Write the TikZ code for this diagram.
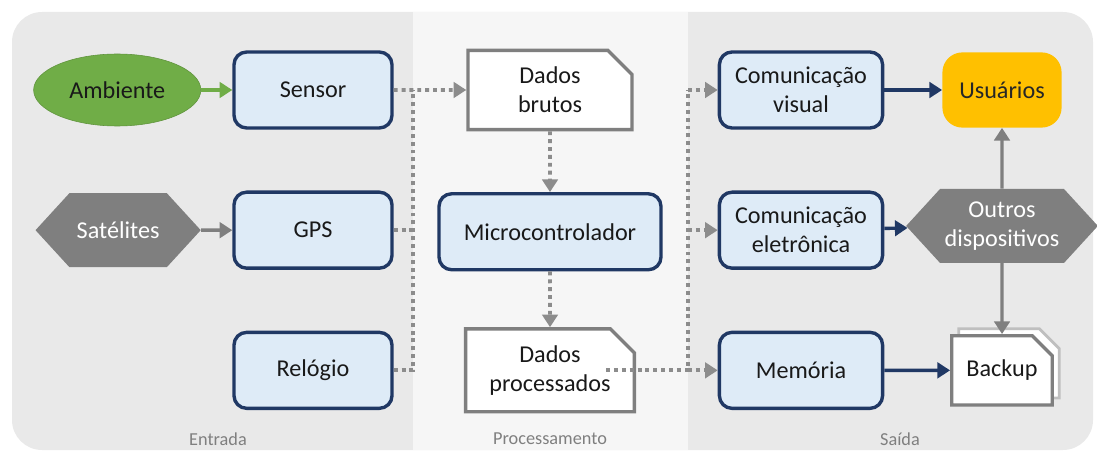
\documentclass[tikz,border=0pt]{standalone}
\usepackage{fontspec}
\setmainfont{Carlito}
\usetikzlibrary{positioning,arrows.meta,shapes.geometric,shapes.misc,shapes.symbols,shadows}
\definecolor{unitNavy}{HTML}{203864}
\definecolor{unitBlue}{HTML}{DEEBF7}
\definecolor{envGreen}{HTML}{70AD47}
\definecolor{extGray}{HTML}{7F7F7F}
\definecolor{userGold}{HTML}{FFC000}
\definecolor{panelGray}{HTML}{E9E9E9}
\definecolor{panelLight}{HTML}{F6F6F6}
\definecolor{dotGray}{HTML}{8C8C8C}

\begin{document}
\begin{tikzpicture}[
  node distance=1.52cm and 0.78cm,
  font=\fontsize{17.2}{20.5}\selectfont,
  unit/.style={rectangle, rounded corners=9pt, minimum width=3.95cm, minimum height=1.9cm,
    align=center, fill=unitBlue, draw=unitNavy, line width=2.4pt, text=black!90},
  data/.style={chamfered rectangle, chamfered rectangle corners=north east, chamfered rectangle sep=0.3cm,
    minimum width=4.1cm, minimum height=1.9cm, align=center, fill=white, draw=extGray, line width=2.4pt, text=black!90},
  ext/.style={signal, signal to=east and west, signal pointer angle=95, minimum height=1.85cm,
    align=center, fill=extGray, text=white, draw=none},
  lbl/.style={font=\fontsize{13}{15}\selectfont, text=extGray},
  dots/.style={dotGray, line width=2.8pt, dash pattern=on 2.8pt off 2.8pt},
  dotarrow/.style={dots, -{Triangle[length=9pt, width=11pt]}},
  navyarrow/.style={unitNavy, line width=2.4pt, -{Triangle[length=9pt, width=11pt]}},
  grayarrow/.style={extGray, line width=2.4pt, -{Triangle[length=9pt, width=11pt]}}
]
  \useasboundingbox (0,0) rectangle (27.425,-11.35);
  % panels
  \fill[panelGray, rounded corners=0.75cm] (0.3,-0.3) rectangle (27.325,-11.25);
  \fill[panelLight] (10.325,-0.3) rectangle (17.2,-11.25);
  \coordinate (busL) at (10.325,0);
  \coordinate (busR) at (17.2,0);

  % entrada
  \node[unit] (sensor) at (7.825,-2.25) {Sensor};
  \node[unit, below=of sensor] (gps) {GPS};
  \node[unit, below=of gps] (relogio) {Relógio};
  \node[ellipse, fill=envGreen, draw=envGreen!85!black, minimum width=4.18cm, minimum height=1.8cm,
    text=black!90, left=of sensor] (ambiente) {Ambiente};
  \node[ext, minimum width=4.13cm, left=of gps] (satelites) {Satélites};

  % processamento
  \node[data] (brutos) at (13.75,-2.25) {Dados\\brutos};
  \node[unit, minimum width=5.55cm, below=of brutos] (micro) {Microcontrolador};
  \node[data, minimum width=4.22cm, minimum height=2cm] (processados) at (micro |- relogio) {Dados\\processados};

  % saida
  \node[unit, minimum width=4.08cm] (cvisual) at (20.025,-2.25) {Comunicação\\visual};
  \node[unit, minimum width=4.08cm, below=of cvisual] (celetr) {Comunicação\\eletrônica};
  \node[unit, minimum width=4.08cm, below=of celetr] (memoria) {Memória};
  \node[rectangle, rounded corners=0.5cm, fill=userGold, minimum width=2.98cm, minimum height=1.88cm,
    text=black!85] (usuarios) at (25.05,-2.25) {Usuários};
  \node[ext, minimum width=4.28cm, below=of usuarios] (outros) {Outros\\dispositivos};
  \node[data, minimum width=2.4cm, minimum height=1.73cm, chamfered rectangle sep=0.25cm,
    copy shadow={shadow xshift=5pt, shadow yshift=5pt, draw=black!25, fill=white, line width=2pt}]
    (backup) at (outros |- memoria) {Backup};

  \node[lbl] (entrada) at (5.45,-10.975) {Entrada};
  \node[lbl] (proc) at (13.75,-10.975) {Processamento};
  \node[lbl] (saida) at (22.5,-10.975) {Saída};

  % connectors
  \draw[envGreen, line width=2.4pt, -{Triangle[length=9pt, width=11pt]}] (ambiente) -- (sensor);
  \draw[grayarrow] (satelites) -- (gps);
  \draw[dotarrow] (sensor) -- (brutos);
  \draw[dots] (gps.east) -- (gps.east -| busL);
  \draw[dots] (relogio.east) -| (busL |- sensor.east);
  \draw[dotarrow] (brutos) -- (micro);
  \draw[dotarrow] (micro) -- (processados);
  \draw[dots] ([xshift=-0.75cm]processados.east) -- (processados.east -| busR) -- (busR |- cvisual.west);
  \foreach \n in {cvisual,celetr,memoria}{ \draw[dotarrow] (busR |- \n.west) -- (\n.west); }
  \draw[navyarrow] (cvisual) -- (usuarios);
  \draw[navyarrow] (celetr) -- (outros);
  \draw[navyarrow] (memoria) -- (backup);
  \draw[grayarrow] (outros) -- (usuarios);
  \draw[grayarrow] (outros) -- (backup);
\end{tikzpicture}
\end{document}
